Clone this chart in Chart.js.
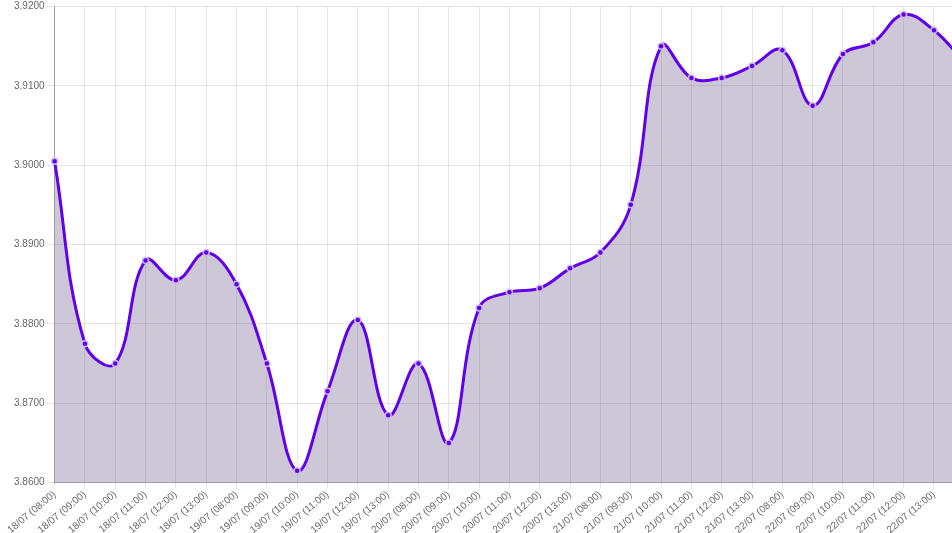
<!DOCTYPE html>
<html>
<head>
<meta charset="utf-8">
<script src="https://cdn.jsdelivr.net/npm/chart.js@4/dist/chart.umd.min.js"></script>
<style>
html,body{margin:0;padding:0;overflow:hidden;background:#fff;width:952px;height:533px;}
#wrap{position:absolute;left:0;top:0;width:972px;height:533px;}
</style>
</head>
<body>
<div id="wrap"><canvas id="c" width="972" height="533"></canvas></div>
<script>
const categories = [
  '18/07 (08:00)','18/07 (09:00)','18/07 (10:00)','18/07 (11:00)','18/07 (12:00)','18/07 (13:00)',
  '19/07 (08:00)','19/07 (09:00)','19/07 (10:00)','19/07 (11:00)','19/07 (12:00)','19/07 (13:00)',
  '20/07 (08:00)','20/07 (09:00)','20/07 (10:00)','20/07 (11:00)','20/07 (12:00)','20/07 (13:00)',
  '21/07 (08:00)','21/07 (09:00)','21/07 (10:00)','21/07 (11:00)','21/07 (12:00)','21/07 (13:00)',
  '22/07 (08:00)','22/07 (09:00)','22/07 (10:00)','22/07 (11:00)','22/07 (12:00)','22/07 (13:00)',
  ''
];
const rates = [
  3.9005, 3.8775, 3.8750, 3.8880, 3.8855, 3.8890,
  3.8850, 3.8750, 3.8615, 3.8715, 3.8805, 3.8685,
  3.8750, 3.8650, 3.8820, 3.8840, 3.8845, 3.8870,
  3.8890, 3.8950, 3.9150, 3.9110, 3.9110, 3.9125,
  3.9145, 3.9075, 3.9140, 3.9155, 3.9190, 3.9170,
  3.9130
];
const yMin = 3.86, yMax = 3.92, yStep = 0.01;

new Chart(document.getElementById('c'), {
  type: 'line',
  data: {
    labels: categories,
    datasets: [{
      data: rates,
      borderColor: '#6200ea',
      borderWidth: 3,
      backgroundColor: 'rgba(100,80,130,0.32)',
      fill: 'origin',
      tension: 0.4,
      pointRadius: 3,
      pointBackgroundColor: '#6200ea',
      pointBorderColor: 'rgba(205,190,240,0.95)',
      pointBorderWidth: 1.5
    }]
  },
  options: {
    responsive: false,
    animation: false,
    plugins: { legend: { display: false }, tooltip: { enabled: false } },
    layout: { padding: { top: 2, right: 0, bottom: -3, left: 12 } },
    scales: {
      x: {
        grid: { color: 'rgba(0,0,0,0.1)', tickLength: 6 },
        border: { color: 'rgba(0,0,0,0.3)' },
        ticks: {
          color: '#666', font: { family: 'Liberation Sans, Arial', size: 10 },
          autoSkip: false, maxRotation: 40, minRotation: 40, padding: 0
        }
      },
      y: {
        min: yMin, max: yMax,
        grid: { color: 'rgba(0,0,0,0.1)', tickLength: 8 },
        border: { color: 'rgba(0,0,0,0.3)' },
        ticks: {
          stepSize: yStep, color: '#666', padding: 2,
          font: { family: 'Liberation Sans, Arial', size: 10, lineHeight: 0.9 },
          callback: v => v.toFixed(4)
        }
      }
    }
  }
});
</script>
</body>
</html>
